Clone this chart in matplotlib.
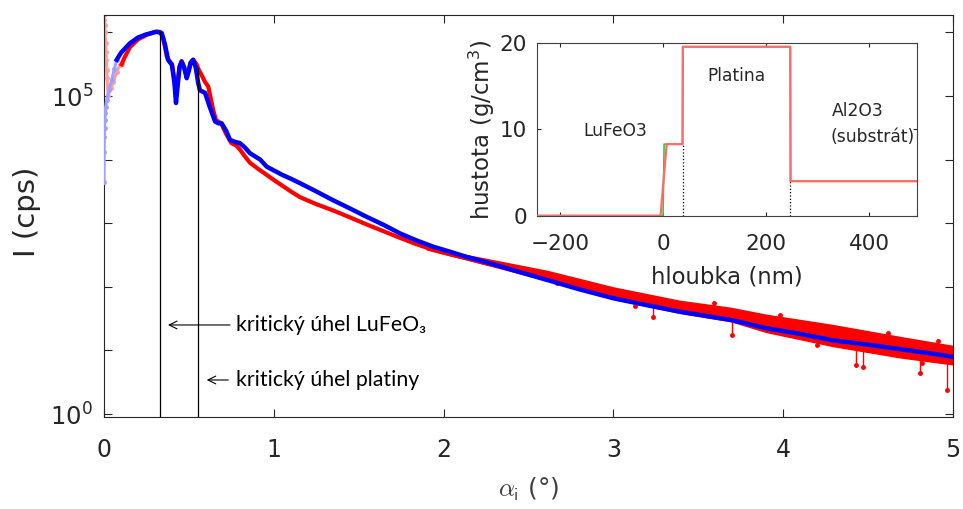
import numpy as np
import matplotlib
matplotlib.use('Agg')
import matplotlib.pyplot as plt
from matplotlib.ticker import FixedLocator, FixedFormatter, NullFormatter

# ---------------- data (alpha_i in deg, log10 of intensity in cps) -------------
meas_dim_x = [0.000, 0.002, 0.004, 0.006, 0.009, 0.012, 0.014, 0.016, 0.018, 0.021,
              0.025, 0.040, 0.055, 0.075, 0.094, 0.104]
meas_dim_logI = [6.27, 6.19, 6.12, 6.01, 5.83, 5.70, 5.57, 5.41, 5.28, 5.15,
                 5.00, 5.13, 5.22, 5.38, 5.49, 5.50]

meas_x = [0.104, 0.12, 0.153, 0.20, 0.25, 0.30, 0.33, 0.35, 0.37, 0.385, 0.40, 0.415,
          0.424, 0.435, 0.445, 0.457, 0.472, 0.487, 0.50, 0.51, 0.525, 0.545, 0.56,
          0.575, 0.595, 0.614, 0.643, 0.66, 0.69, 0.72, 0.75, 0.78, 0.80, 0.83, 0.86,
          0.91, 0.958, 1.00, 1.05, 1.10, 1.154, 1.25, 1.35, 1.45, 1.547, 1.65, 1.743,
          1.84, 1.94, 2.04, 2.136, 2.22, 2.30, 2.45, 2.607, 2.80, 3.0, 3.20, 3.39,
          3.69, 3.90, 4.10, 4.29, 4.50, 4.69, 4.85, 5.0]
meas_logI = [5.50, 5.60, 5.77, 5.89, 5.96, 6.01, 6.01, 5.90, 5.62, 5.55, 5.50, 5.25,
             5.00, 5.25, 5.47, 5.55, 5.45, 5.30, 5.42, 5.53, 5.57, 5.50, 5.40,
             5.33, 5.22, 5.15, 4.78, 4.62, 4.57, 4.40, 4.26, 4.22, 4.16, 4.05, 3.95,
             3.85, 3.76, 3.68, 3.59, 3.50, 3.41, 3.30, 3.20, 3.09, 2.98, 2.87, 2.77,
             2.67, 2.58, 2.51, 2.45, 2.39, 2.34, 2.26, 2.175, 2.04, 1.90, 1.78, 1.68,
             1.565, 1.42, 1.33, 1.235, 1.14, 1.05, 0.98, 0.92]

# noise envelope of the measured data
band_x = [1.9, 2.21, 2.61, 3.0, 3.39, 3.69, 3.90, 4.29, 4.69, 5.0]
band_hi = [2.62, 2.46, 2.25, 1.99, 1.78, 1.67, 1.56, 1.40, 1.21, 1.07]
band_lo = [2.59, 2.38, 2.10, 1.81, 1.59, 1.46, 1.29, 1.07, 0.89, 0.78]

# isolated outlier points of the measured data
spike_x = [2.67, 3.13, 3.235, 3.59, 3.70, 3.98, 4.20, 4.43, 4.47, 4.62, 4.805, 4.82,
           4.91, 4.963]
spike_base = [2.15, 1.79, 1.72, 1.62, 1.56, 1.40, 1.30, 1.17, 1.16, 1.10, 1.03, 1.02,
              0.97, 0.95]
spike_logI = [2.06, 1.70, 1.53, 1.74, 1.24, 1.55, 1.08, 0.77, 0.74, 1.28, 0.64, 0.80,
              1.15, 0.38]

fit_dim_x = [0.000, 0.001, 0.002, 0.003, 0.005, 0.007, 0.010, 0.016, 0.030, 0.045,
             0.060, 0.075]
fit_dim_logI = [3.65, 4.12, 4.36, 4.50, 4.62, 4.73, 4.83, 4.94, 5.10, 5.25, 5.42, 5.57]

fit_x = [0.075, 0.10, 0.153, 0.20, 0.25, 0.31, 0.34, 0.36, 0.377, 0.40, 0.415, 0.424,
         0.435, 0.445, 0.457, 0.472, 0.487, 0.50, 0.51, 0.525, 0.54, 0.555, 0.565,
         0.595, 0.62, 0.654, 0.675, 0.693, 0.72, 0.742, 0.77, 0.80, 0.83, 0.86, 0.92,
         0.958, 1.00, 1.05, 1.10, 1.154, 1.25, 1.35, 1.45, 1.547, 1.65, 1.743, 1.84,
         1.94, 2.04, 2.136, 2.22, 2.31, 2.45, 2.607, 2.80, 3.0, 3.20, 3.39, 3.55,
         3.69, 3.90, 4.10, 4.29, 4.50, 4.69, 4.85, 5.0]
fit_logI = [5.57, 5.68, 5.83, 5.92, 5.97, 6.01, 5.99, 5.80, 5.57, 5.49, 5.20, 4.89,
            5.20, 5.45, 5.54, 5.45, 5.28, 5.40, 5.52, 5.57, 5.45, 5.20, 5.09,
            5.05, 4.85, 4.60, 4.57, 4.57, 4.45, 4.31, 4.28, 4.26, 4.19, 4.10, 4.00,
            3.89, 3.83, 3.76, 3.70, 3.63, 3.50, 3.36, 3.23, 3.10, 2.97, 2.84, 2.73,
            2.63, 2.55, 2.47, 2.41, 2.34, 2.23, 2.11, 1.96, 1.82, 1.71, 1.61, 1.54,
            1.48, 1.35, 1.26, 1.16, 1.09, 1.02, 0.96, 0.90]

crit_angles = [0.33, 0.553]
crit_top_logI = [6.01, 5.44]
crit_labels = ['kritický úhel LuFeO₃', 'kritický úhel platiny']

# density profile (inset)
depth_ideal = [-244, 0.0, 2.0, 38, 38, 247, 247, 492]
rho_ideal = [0, 0, 8.3, 8.3, 19.6, 19.6, 4.0, 4.0]
depth_rough = [-244, -5, 7, 37.5, 38.5, 246.5, 247.5, 492]
rho_rough = [0, 0, 8.3, 8.3, 19.6, 19.6, 4.0, 4.0]
interfaces = [38, 247]
interface_rho = [8.3, 4.0]
layer_names = ['LuFeO3', 'Platina', 'Al2O3', '(substrát)']

# ---------------- figure ----------------
W, H = 963, 509
fig = plt.figure(figsize=(W / 100, H / 100), dpi=100)
TXT = '#262626'
plt.rcParams['font.family'] = ['DejaVu Sans']

ax = fig.add_axes([104 / W, 1 - 417 / H, 849 / W, 402 / H])
p = lambda v: 10 ** np.asarray(v, dtype=float)

# measured data
ax.plot(meas_dim_x, p(meas_dim_logI), '.-', color='#ff9c9c', lw=2.2, ms=5, zorder=2)
ax.fill_between(band_x, p(band_lo), p(band_hi), color='red', lw=1.0, zorder=2)
ax.plot(meas_x, p(meas_logI), '-', color='red', lw=3.0, zorder=2,
        solid_joinstyle='round')
for sx, sb, sy in zip(spike_x, spike_base, spike_logI):
    ax.plot([sx, sx], [10 ** sb, 10 ** sy], '-', color='red', lw=1.0, zorder=2)
ax.plot(spike_x, p(spike_logI), '.', color='red', ms=5, zorder=2)

# fit
ax.plot(fit_dim_x, p(fit_dim_logI), '.-', color='#a0a0ff', lw=2.2, ms=5, zorder=3)
ax.plot(fit_x, p(fit_logI), '-', color='blue', lw=3.2, zorder=3,
        solid_joinstyle='round')

# critical angle lines
ylo = 10 ** -0.047
for ca, ct in zip(crit_angles, crit_top_logI):
    ax.plot([ca, ca], [ylo, 10 ** ct], color='black', lw=0.9, zorder=4)

# annotations
ann_font = dict(family=['Lato', 'DejaVu Sans'], fontsize=15.3, color='black')
ax.annotate('', xy=(0.377, 10 ** 1.40), xytext=(0.742, 10 ** 1.40),
            arrowprops=dict(arrowstyle='->', lw=0.8, color='black',
                            mutation_scale=14, shrinkA=0, shrinkB=0))
ax.annotate('', xy=(0.605, 10 ** 0.535), xytext=(0.732, 10 ** 0.535),
            arrowprops=dict(arrowstyle='->', lw=0.8, color='black',
                            mutation_scale=14, shrinkA=0, shrinkB=0))
ax.text(0.777, 10 ** 1.40, crit_labels[0], va='center', ha='left', **ann_font)
ax.text(0.777, 10 ** 0.535, crit_labels[1], va='center', ha='left', **ann_font)

ax.set_xlim(0, 5)
ax.set_yscale('log')
ax.set_ylim(10 ** -0.047, 10 ** 6.274)
ax.set_xticks([0, 1, 2, 3, 4, 5])
ax.yaxis.set_major_locator(FixedLocator([1, 1e5]))
ax.yaxis.set_major_formatter(FixedFormatter([r'$10^0$', r'$10^5$']))
ax.yaxis.set_minor_locator(FixedLocator([1e1, 1e2, 1e3, 1e4, 1e6]))
ax.yaxis.set_minor_formatter(NullFormatter())
ax.tick_params(axis='both', which='both', direction='in', top=True, right=True,
               length=5.8, width=0.8, colors=TXT)
ax.tick_params(axis='x', labelsize=17, pad=15)
ax.tick_params(axis='y', labelsize=17.5, pad=8)
for s in ax.spines.values():
    s.set_color(TXT)
    s.set_linewidth(0.8)

ax.set_ylabel('I (cps)', fontsize=21, color=TXT)
ax.yaxis.label.set_va('center')
ax.yaxis.set_label_coords(-0.0907, 0.51)
ax.set_xlabel(r'$\alpha_{\mathsf{i}}$ (°)', fontsize=18, color='#404040',
              math_fontfamily='cm')
ax.xaxis.label.set_va('center')
ax.xaxis.set_label_coords(0.5, -0.18)

# ---------------- inset ----------------
ax2 = fig.add_axes([537.3 / W, 1 - 215.7 / H, 379.4 / W, 172.4 / H])
ax2.set_facecolor('white')
ax2.plot(depth_ideal, rho_ideal, color='#33cc33', lw=1.2, zorder=2)
ax2.plot(depth_rough, rho_rough, color='#ff6b6b', lw=1.6, zorder=3)
for xi, ri in zip(interfaces, interface_rho):
    ax2.plot([xi, xi], [0, ri], ':', color='black', lw=0.9, zorder=4)
ax2.set_xlim(-244, 492)
ax2.set_ylim(0, 20)
ax2.set_xticks([-200, 0, 200, 400])
ax2.set_yticks([0, 10, 20])
ax2.tick_params(axis='both', direction='in', top=True, right=True, length=2.8,
                width=0.8, colors=TXT, labelsize=15.5)
ax2.tick_params(axis='x', pad=13)
ax2.tick_params(axis='y', pad=7.5)
for s in ax2.spines.values():
    s.set_color('#404040')
    s.set_linewidth(0.8)
ax2.set_xlabel('hloubka (nm)', fontsize=16.4, color=TXT)
ax2.xaxis.label.set_va('center')
ax2.xaxis.set_label_coords(0.5, -0.354)
ax2.set_ylabel('hustota (g/cm$^3$)', fontsize=16.5, color=TXT)
ax2.yaxis.label.set_va('center')
ax2.yaxis.set_label_coords(-0.1465, 0.5)

lf = dict(fontsize=12.3, color=TXT, ha='center', va='center')
ax2.text(-92, 9.77, layer_names[0], **lf)
ax2.text(143, 16.2, layer_names[1], **lf)
ax2.text(378, 12.1, layer_names[2], **lf)
ax2.text(407, 9.1, layer_names[3], **lf)

fig.savefig('out.png', dpi=100)
